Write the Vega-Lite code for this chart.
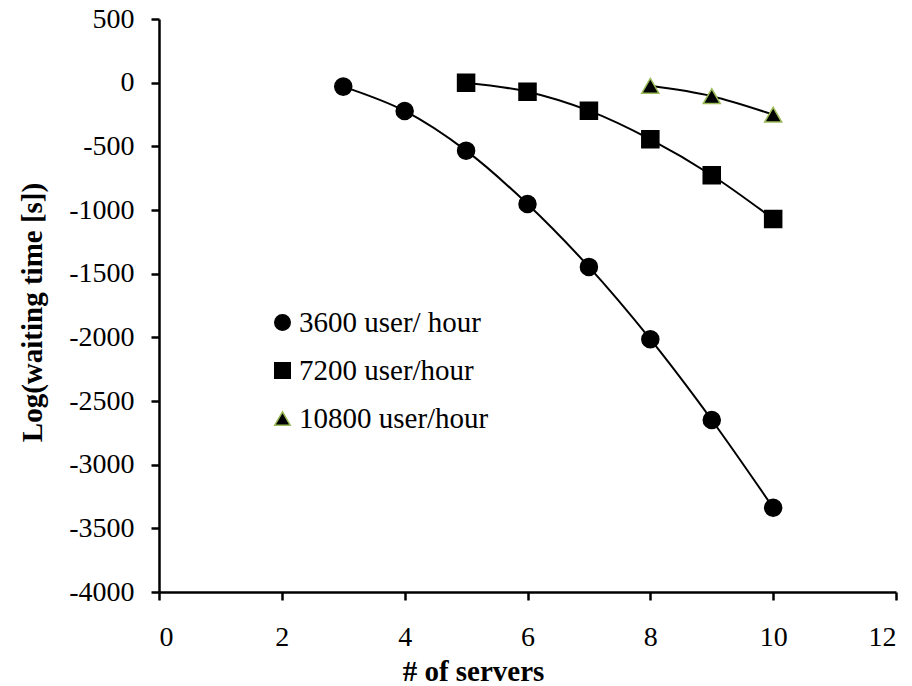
{
  "$schema": "https://vega.github.io/schema/vega-lite/v6.json",
  "width": 737,
  "height": 573,
  "autosize": {"type": "none"},
  "padding": {"left": 159, "top": 19, "right": 16, "bottom": 94},
  "background": "white",
  "config": {
    "view": {"stroke": null},
    "font": "Liberation Serif",
    "axis": {
      "grid": false,
      "domainColor": "black",
      "domainWidth": 2.5,
      "tickColor": "black",
      "tickWidth": 2.5,
      "tickSize": 8,
      "labelFont": "Liberation Serif",
      "labelFontSize": 28,
      "labelColor": "black",
      "titleFont": "Liberation Serif",
      "titleFontSize": 29,
      "titleFontWeight": "bold",
      "titleColor": "black"
    },
    "legend": {
      "labelFont": "Liberation Serif",
      "labelFontSize": 29,
      "labelColor": "black"
    }
  },
  "data": {
    "values": [
      {"servers": 3, "wait": -31, "series": "3600 user/ hour"},
      {"servers": 4, "wait": -222, "series": "3600 user/ hour"},
      {"servers": 5, "wait": -534, "series": "3600 user/ hour"},
      {"servers": 6, "wait": -953, "series": "3600 user/ hour"},
      {"servers": 7, "wait": -1447, "series": "3600 user/ hour"},
      {"servers": 8, "wait": -2015, "series": "3600 user/ hour"},
      {"servers": 9, "wait": -2649, "series": "3600 user/ hour"},
      {"servers": 10, "wait": -3338, "series": "3600 user/ hour"},
      {"servers": 5, "wait": 0, "series": "7200 user/hour"},
      {"servers": 6, "wait": -71, "series": "7200 user/hour"},
      {"servers": 7, "wait": -220, "series": "7200 user/hour"},
      {"servers": 8, "wait": -445, "series": "7200 user/hour"},
      {"servers": 9, "wait": -727, "series": "7200 user/hour"},
      {"servers": 10, "wait": -1070, "series": "7200 user/hour"},
      {"servers": 8, "wait": -25, "series": "10800 user/hour"},
      {"servers": 9, "wait": -106, "series": "10800 user/hour"},
      {"servers": 10, "wait": -251, "series": "10800 user/hour"}
    ]
  },
  "encoding": {
    "x": {
      "field": "servers",
      "type": "quantitative",
      "scale": {"domain": [0, 12], "nice": false},
      "axis": {
        "values": [0, 2, 4, 6, 8, 10, 12],
        "labelExpr": "'' + datum.value",
        "title": "# of servers",
        "labelBaseline": "alphabetic",
        "labelPadding": 45,
        "titleX": 314,
        "titleY": 88,
        "titleAlign": "center",
        "titleBaseline": "alphabetic"
      }
    },
    "y": {
      "field": "wait",
      "type": "quantitative",
      "scale": {"domain": [-4000, 500], "nice": false},
      "axis": {
        "values": [-4000, -3500, -3000, -2500, -2000, -1500, -1000, -500, 0, 500],
        "labelExpr": "'' + datum.value",
        "title": "Log(waiting time [s])",
        "labelPadding": 17,
        "titleAngle": -90,
        "titleX": -118,
        "titleY": 293,
        "titleAlign": "center",
        "titleBaseline": "alphabetic"
      }
    }
  },
  "layer": [
    {
      "mark": {"type": "line", "interpolate": "catmull-rom", "color": "black", "strokeWidth": 2},
      "encoding": {
        "detail": {"field": "series"}
      }
    },
    {
      "mark": {"type": "point", "filled": true, "fill": "black", "size": 290, "strokeWidth": 1.5, "opacity": 1},
      "encoding": {
        "shape": {
          "field": "series",
          "type": "nominal",
          "scale": {
            "domain": ["3600 user/ hour", "7200 user/hour", "10800 user/hour"],
            "range": ["circle", "square", "triangle-up"]
          },
          "legend": {
            "title": null,
            "orient": "none",
            "legendX": 109,
            "legendY": 289,
            "padding": 0,
            "symbolSize": 240,
            "symbolFillColor": "black",
            "symbolStrokeWidth": 1.5,
            "symbolOpacity": 1,
            "labelOffset": 2,
            "rowPadding": 18,
            "labelLimit": 400
          }
        },
        "stroke": {
          "field": "series",
          "type": "nominal",
          "scale": {
            "domain": ["3600 user/ hour", "7200 user/hour", "10800 user/hour"],
            "range": ["black", "black", "#9BBB59"]
          },
          "legend": {
            "title": null,
            "orient": "none",
            "legendX": 109,
            "legendY": 289,
            "padding": 0,
            "symbolSize": 240,
            "symbolFillColor": "black",
            "symbolStrokeWidth": 1.5,
            "symbolOpacity": 1,
            "labelOffset": 2,
            "rowPadding": 18,
            "labelLimit": 400
          }
        }
      }
    }
  ]
}
